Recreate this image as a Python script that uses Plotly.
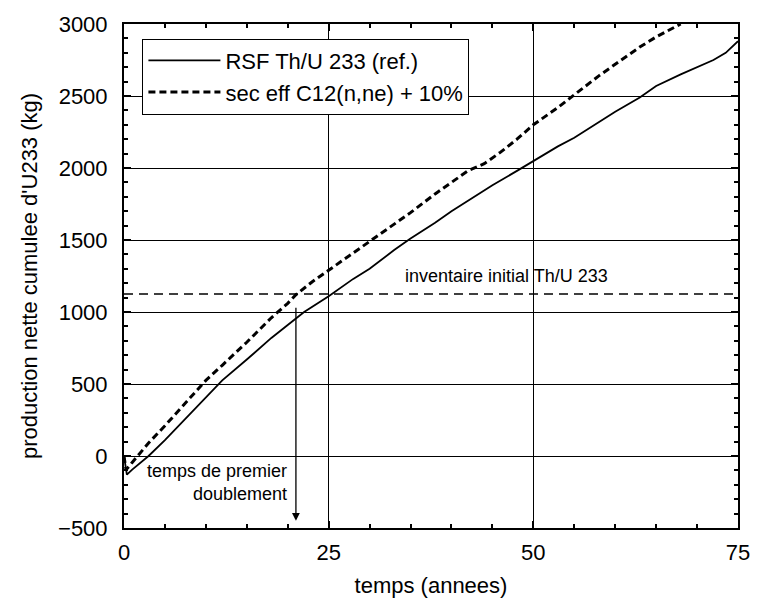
import plotly.graph_objects as go

# Reference curve: RSF Th/U 233 (ref.)
t_ref = [0, 0.35, 1, 2, 3, 5, 8, 10, 12, 15, 18, 20, 22, 25, 28, 30, 33, 35, 38, 40,
         43, 45, 48, 50, 53, 55, 58, 60, 63, 65, 68, 70, 72, 73.5, 75]
v_ref = [0, -130, -95, -45, 0, 110, 290, 410, 525, 670, 820, 910, 1000, 1110, 1230,
         1300, 1430, 1510, 1620, 1700, 1810, 1880, 1980, 2050, 2150, 2210, 2320, 2390,
         2490, 2570, 2650, 2700, 2750, 2800, 2880]

# Variant curve: sec eff C12(n,ne) + 10%
t_var = [0, 0.25, 1, 2, 3, 5, 8, 10, 12, 15, 18, 20, 21, 23, 25, 28, 30, 33, 35, 38,
         40, 42, 44, 46, 48, 50, 53, 55, 58, 60, 63, 65, 68]
v_var = [0, -96, -45, 25, 90, 210, 400, 525, 630, 790, 960, 1060, 1120, 1210, 1290,
         1410, 1490, 1610, 1690, 1820, 1900, 1980, 2030, 2110, 2200, 2300, 2420, 2510,
         2640, 2720, 2840, 2910, 3000]

inv_t = [0, 75]
inv_v = [1125, 1125]

doubling_time = 21
arrow_top = 1040
arrow_tip = -450

font_family = "Liberation Sans, Arial, Helvetica, sans-serif"

fig = go.Figure()
fig.add_trace(go.Scatter(x=t_ref, y=v_ref, mode="lines", name="RSF Th/U 233 (ref.)",
                         line=dict(color="black", width=1.8)))
fig.add_trace(go.Scatter(x=t_var, y=v_var, mode="lines", name="sec eff C12(n,ne) + 10%",
                         line=dict(color="black", width=3, dash="7px,4px")))
fig.add_trace(go.Scatter(x=inv_t, y=inv_v, mode="lines", showlegend=False,
                         line=dict(color="black", width=1.5, dash="9px,6px")))

fig.add_annotation(x=doubling_time, y=arrow_tip, ax=doubling_time, ay=arrow_top,
                   xref="x", yref="y", axref="x", ayref="y", text="",
                   showarrow=True, arrowhead=2, arrowsize=1.2, arrowwidth=1.3,
                   arrowcolor="black")
fig.add_annotation(x=20.1, y=-187, xref="x", yref="y", xanchor="right",
                   text="temps de premier<br>doublement", align="right",
                   showarrow=False, font=dict(size=18, color="black", family=font_family))
fig.add_annotation(x=46.7, y=1250, xref="x", yref="y",
                   text="inventaire initial Th/U 233", showarrow=False,
                   font=dict(size=18, color="black", family=font_family))

axis_common = dict(
    showline=True, linecolor="black", linewidth=2, mirror="allticks",
    ticks="inside", ticklen=7, tickcolor="black", tickwidth=1.5,
    showgrid=True, gridcolor="black", gridwidth=1, zeroline=False,
    ticklabeloverflow="allow",
    tickfont=dict(size=22, color="black", family=font_family),
)

fig.update_xaxes(range=[0, 75], tickvals=[0, 25, 50, 75],
                 minor=dict(ticks="inside", dtick=5, ticklen=4, tickcolor="black", showgrid=False),
                 ticklabelstandoff=4,
                 title=dict(text="temps (annees)", font=dict(size=22, color="black", family=font_family),
                            standoff=13),
                 **axis_common)
fig.update_yaxes(range=[-500, 3000], tickvals=[-500, 0, 500, 1000, 1500, 2000, 2500, 3000],
                 ticktext=["\u2212500", "0", "500", "1000", "1500", "2000", "2500", "3000"],
                 minor=dict(ticks="inside", dtick=100, ticklen=4, tickcolor="black", showgrid=False),
                 ticklabelstandoff=10,
                 title=dict(text="production nette cumulee d'U233 (kg)",
                            font=dict(size=22, color="black", family=font_family), standoff=14),
                 **axis_common)

fig.update_layout(
    width=762, height=606,
    margin=dict(l=124, r=12, t=15, b=71),
    paper_bgcolor="white", plot_bgcolor="white",
    font=dict(family=font_family, color="black"),
    legend=dict(x=0.03, y=0.971, xanchor="left", yanchor="top",
                bgcolor="white", bordercolor="black", borderwidth=1,
                font=dict(size=22, color="black", family=font_family),
                tracegroupgap=0, itemwidth=72),
)

fig.write_html("out.html", config={"displayModeBar": False},
               post_script="document.body.style.margin='0';document.body.style.overflow='hidden';")
